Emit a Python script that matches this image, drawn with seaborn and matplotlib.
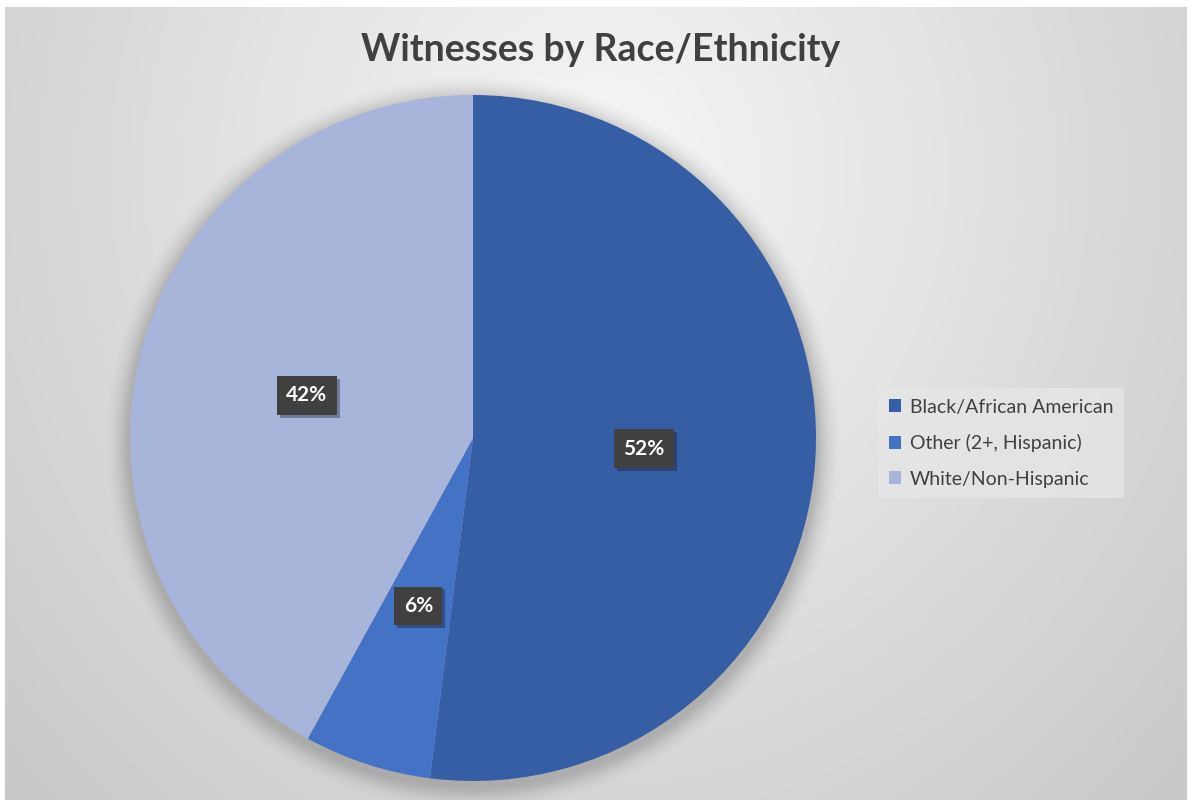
import numpy as np
import matplotlib
matplotlib.use("Agg")
import matplotlib.pyplot as plt
import matplotlib.patheffects as pe
import seaborn as sns

# Data
categories = ["Black/African American", "Other (2+, Hispanic)", "White/Non-Hispanic"]
values = [52, 6, 42]
pct_labels = ["52%", "6%", "42%"]
colors = ["#355EA5", "#4472C4", "#A7B5DB"]
title = "Witnesses by Race/Ethnicity"

sns.set_theme(style="white")
plt.rcParams["font.family"] = ["Lato", "DejaVu Sans"]

W, H = 1193, 800
fig = plt.figure(figsize=(W / 100, H / 100), dpi=100)
fig.patch.set_facecolor("white")

# Background gradient panel
bx0, by0, bx1, by1 = 5, 7, 1187, 800
bg = fig.add_axes([bx0 / W, 1 - by1 / H, (bx1 - bx0) / W, (by1 - by0) / H], zorder=0)
xs = np.linspace(bx0, bx1, 400)
ys = np.linspace(by0, by1, 300)
X, Y = np.meshgrid(xs, ys)
d = np.sqrt(((X - 600) / 620) ** 2 + ((Y - 170) / 680) ** 2)
v = 247 - 50 * np.clip(d, 0, 1.5) / 1.41
img = np.dstack([v, v, v]) / 255.0
bg.imshow(np.clip(img, 0, 1), aspect="auto", extent=[0, 1, 0, 1], origin="upper")
bg.set_axis_off()

# Pie axes
cx, cy, R = 473, 438, 343
ax = fig.add_axes([(cx - R) / W, (H - cy - R) / H, 2 * R / W, 2 * R / H], zorder=2)
ax.set_facecolor("none")

# soft shadow
for i, a in enumerate(np.linspace(0.05, 0.01, 12)):
    circ = plt.Circle((0, -0.015), 1.0 + 0.006 * (i + 1), color="black", alpha=a * 0.55,
                      lw=0, zorder=0, clip_on=False)
    ax.add_patch(circ)

wedges, _ = ax.pie(values, colors=colors, startangle=90, counterclock=False,
                   radius=1, wedgeprops=dict(linewidth=0, clip_on=False), frame=False)
for w in wedges:
    w.set_zorder(2)

# percentage labels at half radius
theta0 = 90.0
total = float(sum(values))
for val, lab in zip(values, pct_labels):
    span = 360.0 * val / total
    mid = np.deg2rad(theta0 - span / 2)
    theta0 -= span
    r = 0.5 if val > 10 else 0.515
    t = ax.text(r * np.cos(mid), r * np.sin(mid), lab, ha="center", va="center",
                color="white", fontsize=15, fontweight="bold", zorder=5,
                bbox=dict(boxstyle="square,pad=0.45", fc="#404040", ec="none"))
    t.get_bbox_patch().set_path_effects([pe.SimplePatchShadow(offset=(2, -2), alpha=0.35), pe.Normal()])

ax.set_xlim(-1, 1)
ax.set_ylim(-1, 1)
ax.set_aspect("auto")
ax.set_axis_off()

# Title
fig.text(601 / W, 1 - 50 / H, title, ha="center", va="center", fontsize=27,
         fontweight="bold", color="#404040")

# Legend
leg = fig.legend(wedges, categories, loc="upper left",
                 bbox_to_anchor=(878 / W, 1 - 388 / H), frameon=True,
                 fontsize=14, handlelength=0.65, handleheight=0.65, handletextpad=0.45,
                 labelspacing=0.95, borderpad=0.55, borderaxespad=0)
leg.get_frame().set_facecolor("#e6e6e6")
leg.get_frame().set_edgecolor("none")
leg.get_frame().set_boxstyle("square", pad=0)
for txt in leg.get_texts():
    txt.set_color("#404040")
leg.set_zorder(6)

fig.savefig("out.png", dpi=100)
